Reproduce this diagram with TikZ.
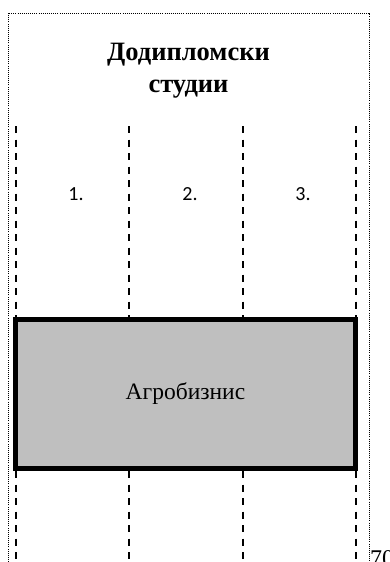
\documentclass[tikz,border=0pt]{standalone}
\usepackage{fontspec}
\setmainfont{Liberation Serif}
\newfontfamily\numfont{Carlito}
\usetikzlibrary{positioning}

\begin{document}
\begin{tikzpicture}[x=1pt,y=-1pt,
  colline/.style={draw,line width=1.8pt,dash pattern=on 7pt off 6.5pt},
  frameline/.style={draw,line width=0.9pt,dash pattern=on 0.9pt off 1.2pt},
  progbox/.style={draw,line width=4.3pt,fill=black!25,minimum width=340pt,minimum height=149pt,inner sep=0pt},
  numlabel/.style={font=\numfont\fontsize{20}{22}\selectfont}]
\clip (0,0) rectangle (389,562);
% frame
\draw[frameline] (8,562) |- (369,13) -- (369,562);
\node[font=\bfseries\fontsize{26.5}{32}\selectfont,align=center] (title) at (188.5,71) {Додипломски\\студии};
% columns
\foreach \i/\x in {0/16,1/129,2/243,3/356}{
  \coordinate (top\i) at (\x,126);
  \coordinate (mid\i) at (\x,319);
  \coordinate (low\i) at (\x,471);
  \coordinate (end\i) at (\x,562);
}
\foreach \i in {0,...,3}{
  \draw[colline] (top\i) -- (mid\i);
  \draw[colline] (low\i) -- (end\i);
}
\node[numlabel] (n1) at (76,194) {1.};
\node[numlabel] (n2) at (190,194) {2.};
\node[numlabel] (n3) at (303,194) {3.};
% programme box
\node[progbox,font=\fontsize{23.5}{26}\selectfont] (agro) at (185.5,394) {Агробизнис};
\node[font=\fontsize{24}{26}\selectfont,anchor=base west,inner sep=0pt] (pg) at (370,566) {70};
\end{tikzpicture}
\end{document}
